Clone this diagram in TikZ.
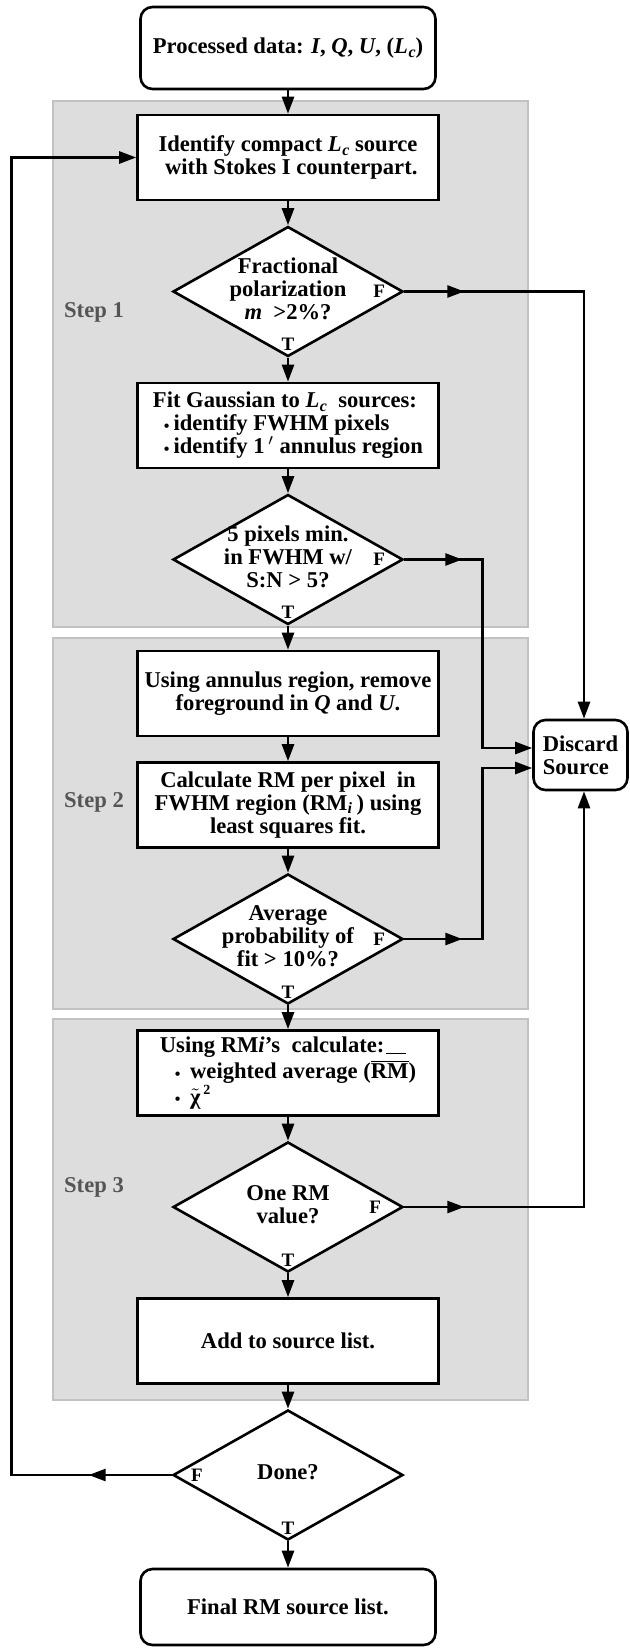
\documentclass[tikz,border=0pt]{standalone}
\usepackage{fontspec}
\setmainfont{Liberation Serif}
\usetikzlibrary{arrows.meta}
\usetikzlibrary{shapes.geometric,positioning}
\usetikzlibrary{decorations.markings}

\definecolor{panelgray}{HTML}{DDDDDD}
\definecolor{panelline}{HTML}{C2C2C2}
\definecolor{stepgray}{HTML}{555555}

\newcommand{\Lc}{\textit{L\kern0.3pt\raisebox{-1.8pt}{\footnotesize c}}}
\newcommand{\dtext}[1]{\makebox[0pt]{\begin{tabular}{@{}c@{}}#1\end{tabular}}}
\newcommand{\bull}[1][5.5pt]{\hspace*{#1}\raisebox{-0.4pt}{\footnotesize\textbullet}\hspace{2pt}}

\begin{document}
\begin{tikzpicture}[x=0.5pt,y=-0.5pt,node distance=67pt,on grid,
    >={Triangle[length=8.5pt,width=6pt]},line width=1.3pt,
    every node/.style={font=\fontsize{11.3}{11.5}\selectfont\bfseries},
    process/.style={draw,rectangle,minimum width=150.5pt,minimum height=42.5pt,align=center,fill=white},
    terminal/.style={draw,rectangle,rounded corners=6pt,minimum width=147.5pt,minimum height=41pt,fill=white},
    decision/.style={draw,diamond,minimum width=115pt,minimum height=65pt,inner sep=0pt,fill=white},
    flag/.style={font=\fontsize{9.5}{10}\selectfont\bfseries,inner sep=1pt},
    midarrow/.style={postaction={decorate},decoration={markings,mark=at position #1 with {\arrow{>}}}},
    panel/.style={fill=panelgray,draw=panelline,line width=1.2pt},
    steplabel/.style={text=stepgray}]
  \useasboundingbox (0,0) rectangle (629,1650);

  % shaded steps
  \draw[panel] (53,101) rectangle (528,627);
  \draw[panel] (53,638) rectangle (528,1009);
  \draw[panel] (53,1019) rectangle (528,1400);
  \node[steplabel] (step1) at (94,312) {Step 1};
  \node[steplabel] (step2) at (94,802) {Step 2};
  \node[steplabel] (step3) at (94,1187) {Step 3};

  \node[terminal] (start) at (288,48) {Processed data: \textit{I}, \textit{Q}, \textit{U}, (\Lc)};
  \node[process,align=right] (identify) [below=54.75pt of start] {Identify compact \Lc{} source\\with Stokes I counterpart.};
  \node[decision] (polfrac) [below=of identify] {\dtext{Fractional\\polarization\\\textit{m}~~>2\%?}};
  \node[process,align=left] (gauss) [below=of polfrac] {Fit Gaussian to \Lc{}\ \ sources:\\\bull identify FWHM pixels\\\bull identify 1\,$'$ annulus region};
  \node[decision] (pixmin) [below=of gauss] {\dtext{5 pixels min.\\in FWHM w/\\S:N > 5?}};
  \node[process] (annulus) [below=of pixmin] {Using annulus region, remove\\foreground in \textit{Q} and \textit{U}.};
  \node[process] (rmfit) [below=55.75pt of annulus] {Calculate RM per pixel\ \ in\\FWHM region (RM\textsubscript{\textit{i}}\,) using\\least squares fit.};
  \node[decision] (prob) [below=of rmfit] {\dtext{Average\\probability of\\fit > 10\%?}};
  \node[process,align=left] (average) [below=of prob] {Using RM\textit{i}’s\ \ calculate:\kern1pt\rule[-0.8pt]{10pt}{0.6pt}\\\bull[7.5pt] weighted average ($\overline{\mbox{RM}}$)\\\bull[7.5pt] $\tilde{\mbox{χ}}^{\,\mbox{\scriptsize 2}}$};
  \node[decision] (onerm) [below=of average] {\dtext{One RM\\value?}};
  \node[process] (add) [below=of onerm] {Add to source list.};
  \node[decision] (done) [below=of add] {\dtext{Done?}};
  \node[terminal,minimum height=38pt] (final) [below=66pt of done] {Final RM source list.};
  \node[draw,rounded corners=6pt,minimum width=47pt,minimum height=35pt,align=left] (discard) at (580.5,755) {Discard\\Source};

  \path[->]
    (start) edge (identify)
    (identify) edge (polfrac)
    (gauss) edge (pixmin)
    (annulus) edge (rmfit)
    (rmfit) edge (prob)
    (average) edge (onerm)
    (add) edge (done);
  \draw[->] (polfrac) -- node[flag,pos=0,above=2pt] {T} (gauss);
  \draw[->] (pixmin) -- node[flag,pos=0,above=2pt] {T} (annulus);
  \draw[->] (prob) -- node[flag,pos=0,above=2pt] {T} (average);
  \draw[->] (onerm) -- node[flag,pos=0,above=2pt] {T} (add);
  \draw[->] (done) -- node[flag,pos=0,above=2pt] {T} (final);

  % false branches
  \draw[->,midarrow=30pt] (polfrac.east) node[flag,left=8pt] {F} -| ([xshift=1.75pt]discard.north);
  \draw[->,midarrow=29pt] (pixmin.east) node[flag,left=8pt] {F} -- ++(78,0) |- ([yshift=3.5pt]discard.west);
  \draw[->,midarrow=29pt] (prob.east) node[flag,left=8pt] {F} -- ++(78,0) |- ([yshift=-6.5pt]discard.west);
  \draw[->,midarrow=30pt] (onerm.east) node[flag,left=10pt] {F} -| ([xshift=1.75pt]discard.south);
  \draw[->,midarrow=41.5pt] (done.west) node[flag,right=8pt] {F} -- ++(-160,0) |- (identify.west);
\end{tikzpicture}
\end{document}
